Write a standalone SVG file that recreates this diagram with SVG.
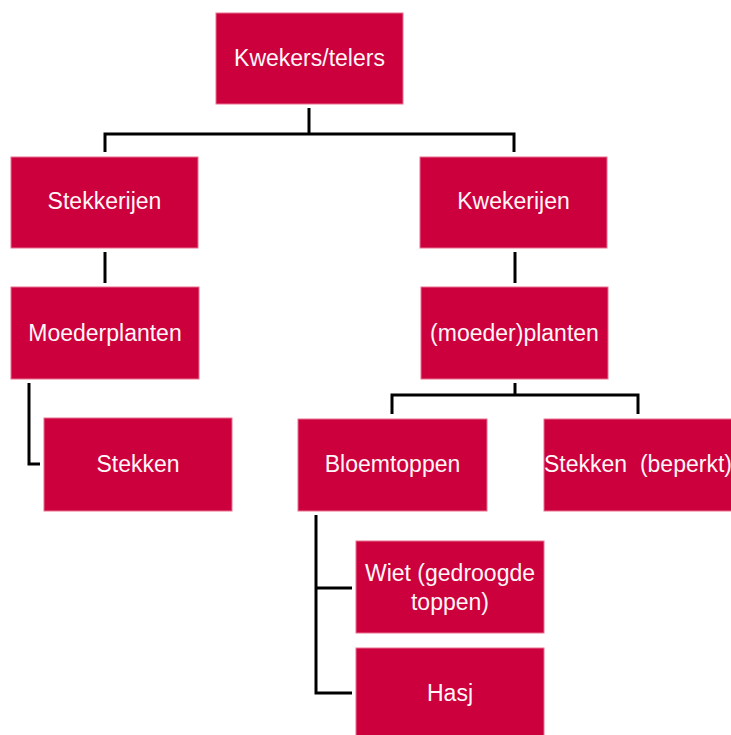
<svg xmlns="http://www.w3.org/2000/svg" width="731" height="735" viewBox="0 0 731 735">
<style>
.box{fill:#cc003d;stroke:#e8708f;stroke-width:1}
.lbl{font-family:"Liberation Sans",Arial,sans-serif;font-size:23px;fill:#fff6f8;text-anchor:middle;dominant-baseline:central}
.con{fill:none;stroke:#000000;stroke-width:3;stroke-linejoin:miter}
</style>
<rect width="731" height="735" fill="#ffffff"/>
<g id="connectors">
<path class="con" d="M309,108 V134 M105,152 V134 H514 V152"/>
<path class="con" d="M105,252 V283"/>
<path class="con" d="M29,383 V464 H40"/>
<path class="con" d="M515,252 V283"/>
<path class="con" d="M515,383 V395 M392,414 V395 H638 V414"/>
<path class="con" d="M316,515 V693 H352 M316,588 H352"/>
</g>
<g id="kwekers-telers"><rect class="box" x="216" y="13" width="187" height="91"/><text class="lbl" x="309.5" y="58">Kwekers/telers</text></g>
<g id="stekkerijen"><rect class="box" x="11" y="157" width="187" height="91"/><text class="lbl" x="104.5" y="201">Stekkerijen</text></g>
<g id="kwekerijen"><rect class="box" x="420" y="157" width="187" height="91"/><text class="lbl" x="513.5" y="201">Kwekerijen</text></g>
<g id="moederplanten"><rect class="box" x="11" y="287" width="188" height="92"/><text class="lbl" x="105" y="333">Moederplanten</text></g>
<g id="moeder-planten"><rect class="box" x="421" y="287" width="187" height="92"/><text class="lbl" x="514.5" y="333">(moeder)planten</text></g>
<g id="stekken"><rect class="box" x="44" y="418" width="188" height="93"/><text class="lbl" x="138" y="464">Stekken</text></g>
<g id="bloemtoppen"><rect class="box" x="298" y="419" width="189" height="92"/><text class="lbl" x="392.5" y="464">Bloemtoppen</text></g>
<g id="stekken-beperkt"><rect class="box" x="544" y="419" width="190" height="92"/><text class="lbl" x="638" y="464">Stekken&#160; (beperkt)</text></g>
<g id="wiet"><rect class="box" x="356" y="541" width="188" height="92"/><text class="lbl" x="450" y="573">Wiet (gedroogde</text><text class="lbl" x="450" y="602">toppen)</text></g>
<g id="hasj"><rect class="box" x="356" y="648" width="188" height="92"/><text class="lbl" x="450" y="693">Hasj</text></g>
</svg>
